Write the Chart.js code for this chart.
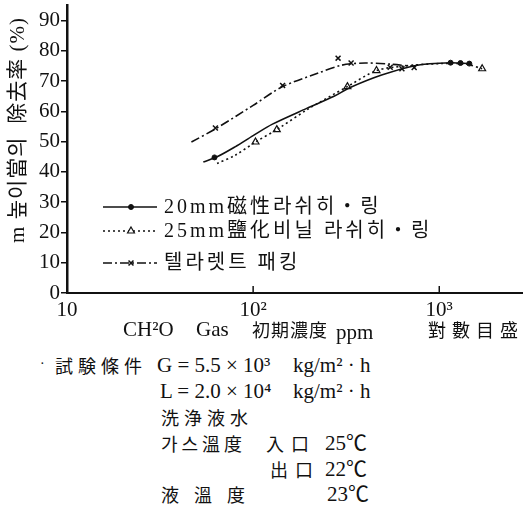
<!DOCTYPE html>
<html>
<head>
<meta charset="utf-8">
<script src="https://cdn.jsdelivr.net/npm/chart.js@4.4.1/dist/chart.umd.min.js"></script>
<style>
  body { margin: 0; background: #fff; }
  #wrap { position: relative; width: 528px; height: 508px; overflow: hidden; }
  #c { position: absolute; left: 0; top: 0; }
  .t { position: absolute; white-space: pre; color: #111; height: 22px; line-height: 22px;
       font-family: 'Liberation Serif', 'Noto Sans CJK KR', serif; font-size: 21px; }
  .k { font-family: 'Noto Sans CJK KR', sans-serif; font-size: 18px; letter-spacing: 3px; }
</style>
</head>
<body>
<div id="wrap">
  <canvas id="c" width="528" height="330"></canvas>

  <!-- x axis title -->
  <div class="t" style="left:123px;top:318px">CH²O</div>
  <div class="t" style="left:196px;top:318px">Gas</div>
  <div class="t k" style="left:252px;top:318px;letter-spacing:1px">初期濃度</div>
  <div class="t" style="left:336px;top:321px">ppm</div>
  <div class="t k" style="left:428px;top:318px;letter-spacing:6px">對數目盛</div>

  <!-- test conditions -->
  <div class="t" style="left:40px;top:353px;font-size:14px">·</div>
  <div class="t k" style="left:55px;top:354px;letter-spacing:5px">試験條件</div>
  <div class="t" style="left:157px;top:354px">G = 5.5 × 10³</div>
  <div class="t" style="left:293px;top:354px">kg/m² · h</div>
  <div class="t" style="left:160px;top:380px">L = 2.0 × 10⁴</div>
  <div class="t" style="left:293px;top:380px">kg/m² · h</div>
  <div class="t k" style="left:161px;top:406px;letter-spacing:5px">洗浄液水</div>
  <div class="t k" style="left:161px;top:432px;letter-spacing:4px">가스溫度</div>
  <div class="t k" style="left:266px;top:432px;letter-spacing:7px">入口</div>
  <div class="t" style="left:325px;top:432px">25℃</div>
  <div class="t k" style="left:270px;top:458px;letter-spacing:7px">出口</div>
  <div class="t" style="left:325px;top:458px">22℃</div>
  <div class="t k" style="left:161px;top:483px;letter-spacing:15px">液溫度</div>
  <div class="t" style="left:327px;top:483px">23℃</div>
</div>

<script>
// axis ticks
const xTickValues = [10, 100, 1000];
const xTickLabels = ['10', '10²', '10³'];
const yTickValues = [0, 10, 20, 30, 40, 50, 60, 70, 80, 90];

// series names
const seriesNames = ['20mm磁性라쉬히・링', '25mm鹽化비닐 라쉬히・링', '텔라렛트 패킹'];

// 20mm 磁性 (solid curve + dots)
const magConc = [54, 64, 80, 100, 127, 194, 272, 330, 490, 748, 1150, 1450];
const magRate = [43.3, 45.0, 48.3, 52.0, 55.8, 61.0, 65.0, 67.8, 72.0, 75.2, 76.1, 75.8];
const magMarkConc = [62, 1150, 1300, 1450];
const magMarkRate = [44.8, 76.1, 76.0, 75.8];

// 25mm 鹽化비닐 (dotted curve + triangles)
const pvcConc = [64, 80, 103, 134, 200, 321, 460, 650, 1000, 1400, 1700];
const pvcRate = [42.8, 45.5, 49.9, 54.0, 61.0, 68.2, 73.5, 75.0, 75.8, 75.6, 74.1];
const pvcMarkConc = [103, 134, 321, 460, 1700];
const pvcMarkRate = [49.9, 54.0, 68.2, 73.5, 74.1];

// 텔라렛트 패킹 (dash-dot curve + crosses)
const telConc = [46.6, 63, 100, 144, 220, 300, 400, 550, 750];
const telRate = [49.9, 54.3, 62.0, 68.2, 72.5, 75.3, 76.0, 75.6, 74.8];
const telMarkConc = [62.7, 144, 286, 336, 545, 630, 733];
const telMarkRate = [54.5, 68.6, 77.6, 76.0, 74.6, 74.1, 74.5];

const ink = '#111';
const serif = "'Liberation Serif', 'Noto Sans CJK KR', serif";
const toPts = (xs, ys) => xs.map((x, i) => ({ x: x, y: ys[i] }));

const styles = [
  { dash: [], point: 'circle', radius: 2.5, bg: ink, bw: 1 },
  { dash: [2, 3], point: 'triangle', radius: 4, bg: '#fff', bw: 1.2 },
  { dash: [9, 3, 2, 3], point: 'crossRot', radius: 3.5, bg: ink, bw: 1.5 }
];

function lineSet(xs, ys, s) {
  return {
    type: 'line', data: toPts(xs, ys), borderColor: ink, borderWidth: 1.6,
    borderDash: s.dash, pointRadius: 0, tension: 0.3, fill: false
  };
}
function markSet(xs, ys, s) {
  return {
    type: 'scatter', data: toPts(xs, ys), showLine: false, pointStyle: s.point,
    pointRadius: s.radius, pointBackgroundColor: s.bg, pointBorderColor: ink, pointBorderWidth: s.bw
  };
}

// legend + y title + inward x ticks
const decor = {
  id: 'decor',
  afterDraw(chart) {
    const ctx = chart.ctx, a = chart.chartArea;
    const xs = chart.scales.x;
    ctx.save();
    ctx.strokeStyle = ink;
    ctx.lineWidth = 1.5;
    xTickValues.slice(1).forEach(v => {
      const px = xs.getPixelForValue(v);
      ctx.beginPath(); ctx.moveTo(px, a.bottom); ctx.lineTo(px, a.bottom - 7); ctx.stroke();
    });

    // legend rows
    const rows = [207, 231, 263];
    seriesNames.forEach((name, i) => {
      const s = styles[i], y = rows[i];
      ctx.setLineDash(s.dash);
      ctx.lineWidth = 1.4;
      ctx.beginPath(); ctx.moveTo(103, y); ctx.lineTo(157, y); ctx.stroke();
      ctx.setLineDash([]);
      ctx.fillStyle = s.bg;
      ctx.lineWidth = s.bw;
      Chart.helpers.drawPoint(ctx, { pointStyle: s.point, radius: s.radius, rotation: 0, borderWidth: s.bw }, 131, y);
      ctx.fillStyle = ink;
      ctx.font = "20px " + serif;
      ctx.letterSpacing = '3px';
      ctx.textBaseline = 'middle';
      ctx.fillText(name, 164, y + 1);
    });

    // y axis title
    ctx.translate(18, 130);
    ctx.rotate(-Math.PI / 2);
    ctx.font = "21px " + serif;
    ctx.letterSpacing = '1px';
    ctx.textAlign = 'center';
    ctx.textBaseline = 'middle';
    ctx.fillStyle = ink;
    ctx.fillText('m 높이當의  除去率 (%)', 0, 0);
    ctx.restore();
  }
};

new Chart(document.getElementById('c'), {
  data: {
    datasets: [
      lineSet(magConc, magRate, styles[0]), markSet(magMarkConc, magMarkRate, styles[0]),
      lineSet(pvcConc, pvcRate, styles[1]), markSet(pvcMarkConc, pvcMarkRate, styles[1]),
      lineSet(telConc, telRate, styles[2]), markSet(telMarkConc, telMarkRate, styles[2])
    ]
  },
  options: {
    responsive: false,
    animation: false,
    devicePixelRatio: 1,
    layout: { padding: { top: 5, right: 0, left: 0, bottom: 0 } },
    plugins: { legend: { display: false }, tooltip: { enabled: false } },
    scales: {
      x: {
        type: 'logarithmic', min: 10, max: 2800, position: 'bottom',
        grid: { display: false },
        border: { display: true, color: ink, width: 2 },
        afterBuildTicks: s => { s.ticks = xTickValues.map(v => ({ value: v })); },
        afterFit: s => { s.height = 37; s.paddingLeft = 0; s.paddingRight = 0; },
        ticks: {
          autoSkip: false, maxRotation: 0, color: ink, padding: -3,
          font: { family: serif, size: 21 },
          callback: v => xTickLabels[xTickValues.indexOf(v)] ?? ''
        }
      },
      y: {
        type: 'linear', min: 0, max: 95,
        grid: { drawOnChartArea: false, tickLength: 6, color: ink, lineWidth: 1.5 },
        border: { display: true, color: ink, width: 2.5 },
        afterBuildTicks: s => { s.ticks = yTickValues.map(v => ({ value: v })); },
        afterFit: s => { s.width = 67; s.paddingTop = 0; s.paddingBottom = 0; },
        ticks: { color: ink, padding: 1, font: { family: serif, size: 21 } }
      }
    }
  },
  plugins: [decor]
});
</script>
</body>
</html>
